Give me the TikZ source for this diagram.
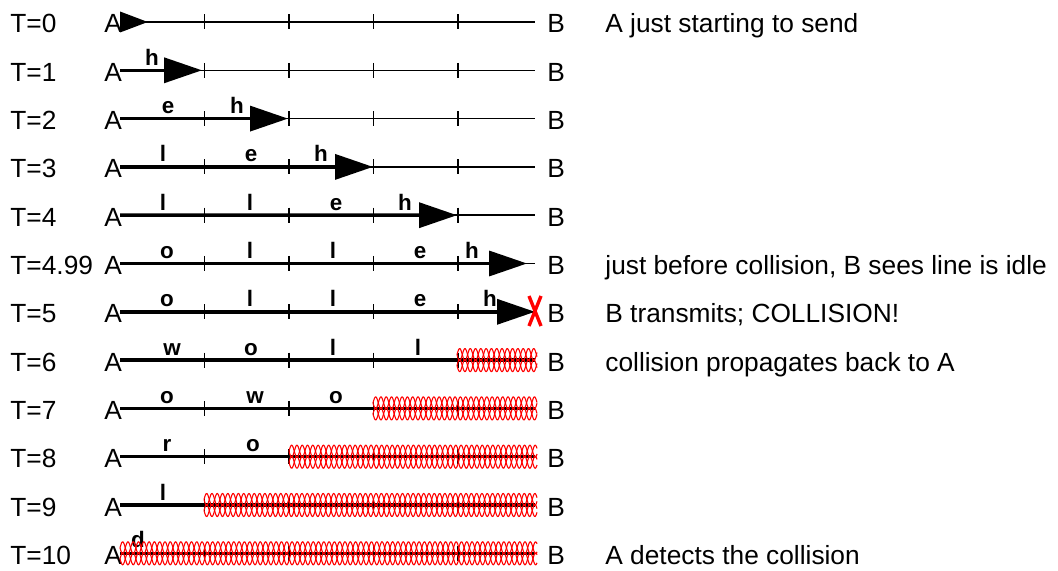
\documentclass[tikz,border=0pt]{standalone}
\usepackage{fontspec}
\setmainfont{Liberation Sans}
\usetikzlibrary{arrows.meta, positioning, calc}

\tikzset{
  lbl/.style={font=\fontsize{13.15}{15}\selectfont, inner sep=0pt, anchor=base west},
  chr/.style={font=\fontsize{11.2}{13}\selectfont\bfseries, inner sep=0pt, anchor=base},
  wire/.style={line width=0.75pt},
  sig/.style={line width=1.75pt},
  head/.style={sig, -{Triangle[length=19pt, width=12.5pt]}},
  headsmall/.style={sig, -{Triangle[length=14pt, width=10pt]}},
  coll/.style={red, line width=0.55pt},
  cross/.style={red, line width=1.7pt},
}

% collision band: start x, row y, length (all in px)
\newcommand{\collband}[3]{%
  \foreach \dy/\ph in {-5.5/0,-5.5/180,5.5/0,5.5/180}
    \draw[coll] plot[domain=0:#3, samples=700] ({#1+\x}, {#2+\dy+6*sin(34*\x+\ph)});%
}

\begin{document}
\begin{tikzpicture}[x=0.5pt, y=-0.5pt]
    \useasboundingbox (0,0) rectangle (1058,571);

    % Rows: time label, end points, wire and ticks
    \foreach \i/\t in {0/0,1/1,2/2,3/3,4/4,5/4.99,6/5,7/6,8/7,9/8,10/9,11/10} {
      \pgfmathsetmacro{\y}{22+48.3*\i}
      \node[lbl] (t\i) at (10,\y+11) {T=\t};
      \node[lbl] (a\i) at (104,\y+11) {A};
      \node[lbl] (b\i) at (547,\y+11) {B};
      \coordinate (s\i) at (120,\y);
      \coordinate (e\i) at (535,\y);
      \draw[wire] (s\i) -- (e\i);
      \foreach \k in {204.5,289,373.5,458}
        \draw[wire] (\k,\y-7.5) -- (\k,\y+7.5);
    }

    % Comments to the right
    \node[lbl] (n0) at (605,33) {A just starting to send};
    \node[lbl] (n5) at (605,274.5) {just before collision, B sees line is idle};
    \node[lbl] (n6) at (605,322.8) {B transmits; COLLISION!};
    \node[lbl] (n7) at (605,371.1) {collision propagates back to A};
    \node[lbl] (n11) at (605,564.3) {A detects the collision};

    % T=0
    \coordinate (h0) at (148,22);
    \draw[headsmall] (s0) -- (h0);

    % T=1
    \coordinate (h1) at (202,70.3);
    \draw[head] (s1) -- (h1);
    \node[chr] (c1a) at (152,65.3) {h};

    % T=2
    \coordinate (h2) at (288,118.6);
    \draw[head] (s2) -- (h2);
    \foreach \x/\c [count=\n] in {168/e,237/h}
      \node[chr] (c2\n) at (\x,113.6) {\c};

    % T=3
    \coordinate (h3) at (373,166.9);
    \draw[head] (s3) -- (h3);
    \foreach \x/\c [count=\n] in {163/l,251/e,321/h}
      \node[chr] (c3\n) at (\x,161.9) {\c};

    % T=4
    \coordinate (h4) at (457,215.2);
    \draw[head] (s4) -- (h4);
    \foreach \x/\c [count=\n] in {163/l,250/l,336/e,405/h}
      \node[chr] (c4\n) at (\x,210.2) {\c};

    % T=4.99
    \coordinate (h5) at (527,263.5);
    \draw[head] (s5) -- (h5);
    \foreach \x/\c [count=\n] in {167/o,250/l,333/l,420/e,472/h}
      \node[chr] (c5\n) at (\x,258.5) {\c};

    % T=5 (B starts, collision at B)
    \draw[head] (s6) -- (e6);
    \foreach \x/\c [count=\n] in {167/o,250/l,333/l,420/e,490/h}
      \node[chr] (c6\n) at (\x,306.8) {\c};
    \draw[cross] (529,296) -- (541,326);
    \draw[cross] (541,296) -- (529,326);

    % T=6
    \draw[sig] (s7) -- (e7);
    \foreach \x/\c [count=\n] in {172/w,251/o,333/l,418/l}
      \node[chr] (c7\n) at (\x,355.1) {\c};
    \collband{457}{360.1}{80}

    % T=7
    \draw[sig] (s8) -- (e8);
    \foreach \x/\c [count=\n] in {167/o,255/w,336/o}
      \node[chr] (c8\n) at (\x,403.4) {\c};
    \collband{373}{408.4}{164}

    % T=8
    \draw[sig] (s9) -- (e9);
    \foreach \x/\c [count=\n] in {167/r,253/o}
      \node[chr] (c9\n) at (\x,451.7) {\c};
    \collband{289}{456.7}{248}

    % T=9
    \draw[sig] (s10) -- (e10);
    \node[chr] (c101) at (163,500) {l};
    \collband{204}{505}{333}

    % T=10
    \draw[sig] (s11) -- (e11);
    \node[chr] (c111) at (138,547.3) {d};
    \collband{120}{553.3}{417}
  \end{tikzpicture}
\end{document}
